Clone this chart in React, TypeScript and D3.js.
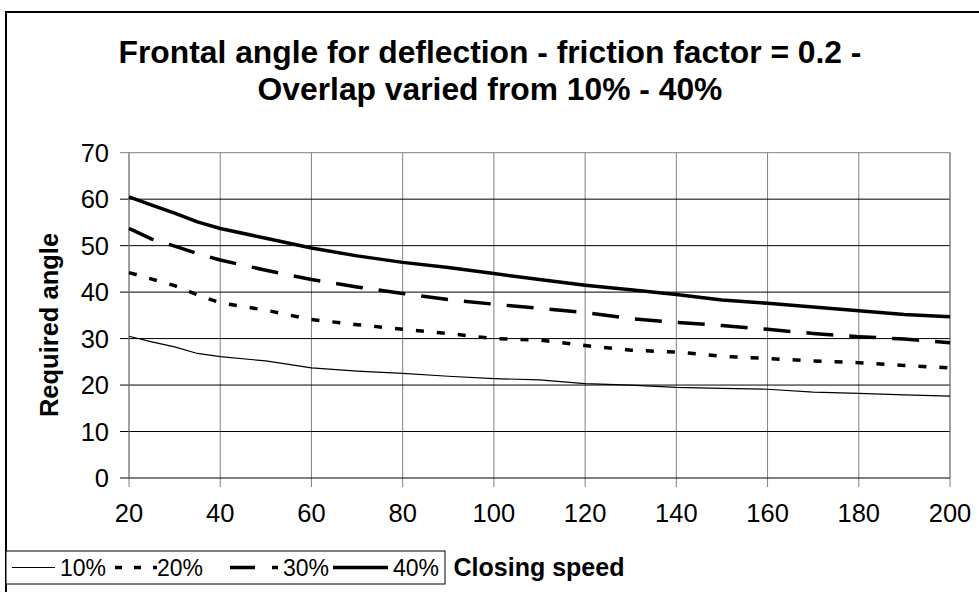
import React from "react";
import * as d3 from "d3";

const speeds = [20, 25, 30, 35, 40, 50, 60, 70, 80, 90, 100, 110, 120, 130, 140, 150, 160, 170, 180, 190, 200];
const overlap10 = [30.5, 29.3, 28.2, 26.8, 26.1, 25.2, 23.7, 23.0, 22.5, 21.9, 21.4, 21.1, 20.3, 20.0, 19.5, 19.3, 19.1, 18.5, 18.2, 17.9, 17.6];
const overlap20 = [44.2, 42.8, 41.4, 39.4, 37.7, 36.1, 34.1, 33.0, 32.0, 31.1, 30.0, 29.7, 28.5, 27.5, 27.1, 26.2, 25.7, 25.2, 24.8, 24.2, 23.7];
const overlap30 = [53.7, 51.4, 49.9, 48.3, 46.9, 44.7, 42.7, 41.1, 39.7, 38.4, 37.4, 36.5, 35.6, 34.3, 33.5, 32.8, 32.0, 31.1, 30.4, 29.9, 29.1];
const overlap40 = [60.5, 58.7, 57.0, 55.1, 53.7, 51.6, 49.5, 47.8, 46.4, 45.3, 44.0, 42.7, 41.5, 40.5, 39.5, 38.3, 37.6, 36.8, 36.0, 35.2, 34.7];
const seriesNames = ["10%", "20%", "30%", "40%"];
const xTicks = [20, 40, 60, 80, 100, 120, 140, 160, 180, 200];
const yTicks = [0, 10, 20, 30, 40, 50, 60, 70];

const titleLines = ["Frontal angle for deflection - friction factor = 0.2 -", "Overlap varied from 10% - 40%"];

const FONT = "'Liberation Sans', Arial, sans-serif";

export default function App() {
  const W = 979, H = 592;
  const left = 129, right = 950, top = 152.7, bottom = 478;
  const x = d3.scaleLinear().domain([20, 200]).range([left, right]);
  const y = d3.scaleLinear().domain([0, 70]).range([bottom, top]);

  const all = [overlap10, overlap20, overlap30, overlap40];
  const styles = [
    { w: 1.2, dash: "" },
    { w: 3.5, dash: "8,13" },
    { w: 3.5, dash: "27,16" },
    { w: 3.5, dash: "" },
  ];
  const legendStyles = [
    { w: 1.2, dash: "" },
    { w: 3.5, dash: "7,12" },
    { w: 3.5, dash: "25,17" },
    { w: 3.5, dash: "" },
  ];
  const line = d3
    .line<number>()
    .x((_, i) => x(speeds[i]))
    .y((d) => y(d));

  const legendX = [12, 115, 230, 333];
  const legendLen = [43, 42, 48, 55];

  return (
    <div style={{ position: "fixed", left: 0, top: 0 }}>
      <svg width={W} height={H} style={{ display: "block", background: "#fff" }} fontFamily={FONT}>
        <rect x={6} y={12} width={1100} height={700} fill="#fff" stroke="#000" strokeWidth={2} />
        {titleLines.map((t, i) => (
          <text key={i} x={490} y={63 + i * 37} textAnchor="middle" fontWeight="bold" fontSize={31.8} fill="#000">
            {t}
          </text>
        ))}
        {xTicks.map((t) => (
          <line key={"vx" + t} x1={x(t)} x2={x(t)} y1={top} y2={bottom + 9} stroke="#808080" strokeWidth={1} />
        ))}
        {yTicks.map((t) => (
          <line key={"hy" + t} x1={left - 9} x2={right} y1={y(t)} y2={y(t)} stroke={t === 70 ? "#808080" : "#000"} strokeWidth={1} />
        ))}
        <line x1={right} x2={right} y1={top} y2={bottom} stroke="#808080" strokeWidth={1} />
        <line x1={left} x2={left} y1={top} y2={bottom} stroke="#808080" strokeWidth={1} />
        {yTicks.map((t) => (
          <text key={"yl" + t} x={109} y={y(t)} dy="0.36em" textAnchor="end" fontSize={25.5} fill="#000">
            {t}
          </text>
        ))}
        {xTicks.map((t) => (
          <text key={"xl" + t} x={x(t)} y={522} textAnchor="middle" fontSize={25.5} fill="#000">
            {t}
          </text>
        ))}
        {all.map((s, i) => (
          <path
            key={"s" + i}
            d={line(s) || ""}
            fill="none"
            stroke="#000"
            strokeWidth={styles[i].w}
            strokeDasharray={styles[i].dash || undefined}
            strokeLinejoin="round"
          />
        ))}
        <text transform="translate(58,325) rotate(-90)" textAnchor="middle" fontWeight="bold" fontSize={25.5} fill="#000">
          Required angle
        </text>
        <rect x={6} y={551} width={439} height={33} fill="#fff" stroke="#000" strokeWidth={1} />
        {seriesNames.map((n, i) => (
          <g key={"lg" + i}>
            <line
              x1={legendX[i]}
              x2={legendX[i] + legendLen[i]}
              y1={567.5}
              y2={567.5}
              stroke="#000"
              strokeWidth={legendStyles[i].w}
              strokeDasharray={legendStyles[i].dash || undefined}
            />
            <text x={legendX[i] + legendLen[i] + (i === 1 ? 0 : 5)} y={576} fontSize={23} fill="#000">
              {n}
            </text>
          </g>
        ))}
        <text x={539} y={576} textAnchor="middle" fontWeight="bold" fontSize={25} fill="#000">
          Closing speed
        </text>
      </svg>
    </div>
  );
}
